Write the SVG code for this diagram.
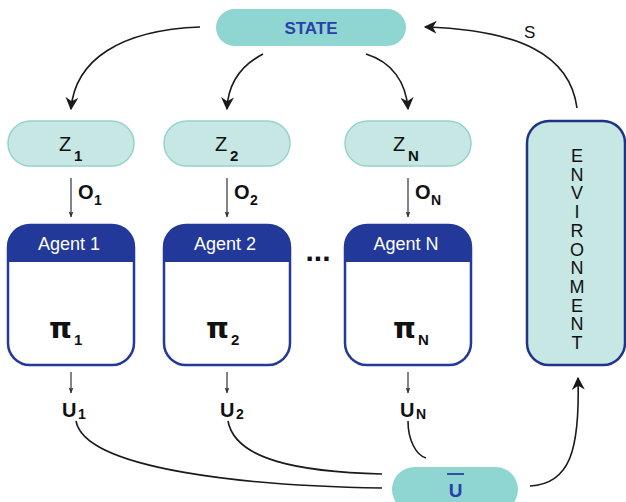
<svg xmlns="http://www.w3.org/2000/svg" width="626" height="502" viewBox="0 0 626 502">
<defs>
<marker id="ahl" viewBox="0 0 10 10" refX="9" refY="5" markerWidth="13" markerHeight="13" orient="auto" markerUnits="userSpaceOnUse">
<path d="M0,0 L10,5 L0,10 L3,5 z" fill="#1a1a1a"/>
</marker>
<marker id="ahs" viewBox="0 0 10 10" refX="9" refY="5" markerWidth="6" markerHeight="6" orient="auto" markerUnits="userSpaceOnUse">
<path d="M0,1 L10,5 L0,9 L2,5 z" fill="#333"/>
</marker>
</defs>
<style>
text{font-family:"Liberation Sans",Arial,sans-serif;}
.pill{fill:#8fd5d2;}
.z{fill:#c6e7e3;stroke:#93d4cf;stroke-width:1.5;}
.hdr{fill:#22399a;}
.body{fill:#fff;stroke:#22399a;stroke-width:2.5;}
.env{fill:#c6e7e3;stroke:#1f3487;stroke-width:2.5;}
.blue{fill:#2a40a8;font-weight:bold;}
.lbl{fill:#111;font-weight:bold;}
.zt{fill:#111;}
.wt{fill:#fff;font-size:18px;}
.pi{fill:#111;font-weight:bold;font-size:29px;font-family:"DejaVu Sans",sans-serif;}
.c{fill:none;stroke:#1a1a1a;stroke-width:1.6;}
.t{fill:none;stroke:#333;stroke-width:1.2;}
</style>
<g id="connectors">
<path class="c" d="M200,27 C120,30 75,60 71,109" marker-end="url(#ahl)"/>
<path class="c" d="M263,54 C240,66 228,85 227,109" marker-end="url(#ahl)"/>
<path class="c" d="M366,54 C392,62 406,82 408,109" marker-end="url(#ahl)"/>
<path class="c" d="M577,108 C570,55 520,30 425,27" marker-end="url(#ahl)"/>
<path class="c" d="M530,486 C570,484 580,450 578,378" marker-end="url(#ahl)"/>
<path class="t" d="M71,178 V217" marker-end="url(#ahs)"/>
<path class="t" d="M227,178 V217" marker-end="url(#ahs)"/>
<path class="t" d="M408,178 V217" marker-end="url(#ahs)"/>
<path class="t" d="M71,372 V393" marker-end="url(#ahs)"/>
<path class="t" d="M227,372 V393" marker-end="url(#ahs)"/>
<path class="t" d="M408,372 V393" marker-end="url(#ahs)"/>
<path class="c" d="M76,421 C85,470 250,486 382,488"/>
<path class="c" d="M228,421 C235,460 300,472 382,474"/>
<path class="c" d="M408,421 C408,440 416,455 426,458"/>
</g>
<g id="state">
<rect class="pill" x="216" y="9" width="190" height="37" rx="18.5"/>
<text class="blue" x="311" y="34" font-size="17" text-anchor="middle">STATE</text>
</g>
<g id="z1">
<rect class="z" x="8" y="121" width="126" height="45" rx="22.5"/>
<text class="zt" x="59" y="151" font-size="20">Z</text>
<text class="lbl" x="74" y="161" font-size="15">1</text>
</g>
<g id="z2">
<rect class="z" x="164" y="121" width="126" height="45" rx="22.5"/>
<text class="zt" x="215" y="151" font-size="20">Z</text>
<text class="lbl" x="230" y="161" font-size="15">2</text>
</g>
<g id="zN">
<rect class="z" x="345" y="121" width="126" height="45" rx="22.5"/>
<text class="zt" x="393" y="151" font-size="20">Z</text>
<text class="lbl" x="408" y="161" font-size="15">N</text>
</g>
<g id="o-labels">
<text class="lbl" x="78" y="199" font-size="20">O</text>
<text class="lbl" x="94" y="205" font-size="14">1</text>
<text class="lbl" x="234" y="199" font-size="20">O</text>
<text class="lbl" x="250" y="205" font-size="14">2</text>
<text class="lbl" x="415" y="199" font-size="20">O</text>
<text class="lbl" x="431" y="205" font-size="14">N</text>
</g>
<g id="agent1">
<rect class="body" x="8" y="225" width="126" height="140" rx="22"/>
<path class="hdr" d="M8,262 V247 A22,22 0 0 1 30,225 H112 A22,22 0 0 1 134,247 V262 Z"/>
<text class="wt" x="69" y="250" text-anchor="middle">Agent 1</text>
<text class="pi" x="72" y="338" text-anchor="end">π</text>
<text class="lbl" x="74" y="345" font-size="15">1</text>
</g>
<g id="agent2">
<rect class="body" x="164" y="225" width="126" height="140" rx="22"/>
<path class="hdr" d="M164,262 V247 A22,22 0 0 1 186,225 H268 A22,22 0 0 1 290,247 V262 Z"/>
<text class="wt" x="225" y="250" text-anchor="middle">Agent 2</text>
<text class="pi" x="229" y="338" text-anchor="end">π</text>
<text class="lbl" x="231" y="345" font-size="15">2</text>
</g>
<g id="agentN">
<rect class="body" x="345" y="225" width="126" height="140" rx="22"/>
<path class="hdr" d="M345,262 V247 A22,22 0 0 1 367,225 H449 A22,22 0 0 1 471,247 V262 Z"/>
<text class="wt" x="406" y="250" text-anchor="middle">Agent N</text>
<text class="pi" x="416" y="338" text-anchor="end">π</text>
<text class="lbl" x="418" y="345" font-size="15">N</text>
</g>
<g id="ellipsis">
<text class="lbl" x="318" y="261" font-size="30" text-anchor="middle">...</text>
</g>
<g id="u-labels">
<text class="lbl" x="62" y="417" font-size="20">U</text>
<text class="lbl" x="78" y="419" font-size="14">1</text>
<text class="lbl" x="220" y="417" font-size="20">U</text>
<text class="lbl" x="236" y="419" font-size="14">2</text>
<text class="lbl" x="400" y="417" font-size="20">U</text>
<text class="lbl" x="416" y="419" font-size="14">N</text>
</g>
<g id="ubar">
<rect class="pill" x="392" y="467" width="126" height="45" rx="22.5"/>
<line x1="447" y1="474" x2="464" y2="474" stroke="#2a40a8" stroke-width="1.8"/>
<text class="blue" x="455.5" y="497" font-size="19" text-anchor="middle">U</text>
</g>
<g id="environment">
<rect class="env" x="527" y="121" width="98" height="244" rx="22"/>
<g font-size="18" fill="#111" text-anchor="middle">
<text x="577" y="162">E</text>
<text x="577" y="180.7">N</text>
<text x="577" y="199.4">V</text>
<text x="577" y="218.1">I</text>
<text x="577" y="236.8">R</text>
<text x="577" y="255.5">O</text>
<text x="577" y="274.2">N</text>
<text x="577" y="292.9">M</text>
<text x="577" y="311.6">E</text>
<text x="577" y="330.3">N</text>
<text x="577" y="349">T</text>
</g>
</g>
<g id="s-label">
<text x="524" y="38" font-size="17" fill="#111">S</text>
</g>
</svg>
